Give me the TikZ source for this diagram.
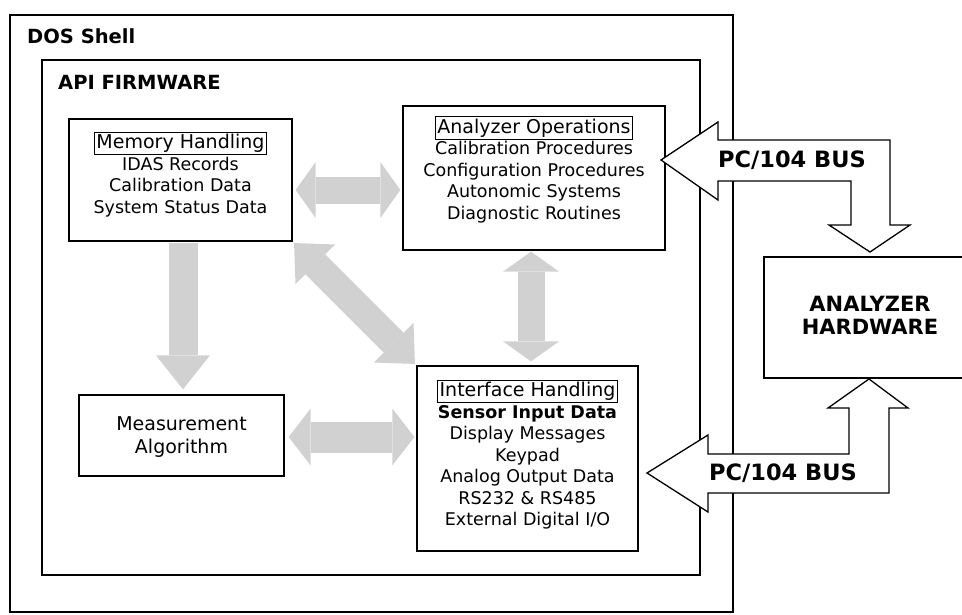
\documentclass[tikz,border=0pt]{standalone}
\usepackage{fontspec}
\setmainfont{DejaVu Sans}
\usetikzlibrary{arrows.meta}
\setlength\fboxsep{1.5pt}
\setlength\fboxrule{0.8pt}
\newcommand\headbox[1]{\fbox{\fontsize{19}{21.5}\selectfont #1}}

\begin{document}
\begin{tikzpicture}[x=1pt,y=-1pt,
  box/.style={draw,line width=1.3pt,inner sep=0pt},
  frame/.style={draw,line width=2pt,inner sep=0pt},
  txt/.style={align=center,font=\fontsize{17.5}{21.5}\selectfont},
  title/.style={anchor=west,inner sep=0pt,font=\fontsize{19.5}{23}\selectfont\bfseries},
  bus/.style={draw,line width=1.3pt,fill=white,line join=miter},
  buslabel/.style={font=\fontsize{22.5}{26}\selectfont\bfseries},
  flow/.style={draw=black!18,line width=27pt,
    >={Triangle[width=56pt,length=20pt,line width=0pt]}}]
\useasboundingbox (0,0) rectangle (962,614);
% shell and firmware
\node[frame,minimum width=723pt,minimum height=597pt] (dos) at (371.5,313.5) {};
\node[frame,minimum width=658pt,minimum height=515pt] (fw) at (371,317.5) {};
\node[title] (dosname) at (27,36) {DOS Shell};
\node[title] (fwname) at (58,82) {API FIRMWARE};
% blocks
\node[box,minimum width=223pt,minimum height=122pt] (mem) at (180.5,180) {};
\node[box,minimum width=262pt,minimum height=144pt] (ops) at (534,178) {};
\node[box,minimum width=205pt,minimum height=81pt] (meas) at (181.5,435.5) {};
\node[box,minimum width=221pt,minimum height=185pt] (intf) at (527.5,458.5) {};
\node[box,minimum width=206pt,minimum height=121pt] (hw) at (867,317.5) {};
\node[txt] (memtext) at (180.5,174.5) {\headbox{Memory Handling}\\IDAS Records\\Calibration Data\\System Status Data};
\node[txt] (opstext) at (534,169.5) {\headbox{Analyzer Operations}\\Calibration Procedures\\Configuration Procedures\\Autonomic Systems\\Diagnostic Routines};
\node[txt,font=\fontsize{19}{23}\selectfont] (meastext) at (181.5,437.5) {Measurement\\Algorithm};
\node[txt] (intftext) at (527.5,454.5) {\headbox{Interface Handling}\\\textbf{Sensor Input Data}\\Display Messages\\Keypad\\Analog Output Data\\RS232 \& RS485\\External Digital I/O};
\node[align=center,font=\fontsize{21}{23}\selectfont\bfseries] (hwtext) at (870,315.5) {ANALYZER\\HARDWARE};
% data flow
\draw[flow,<->,shorten <=3pt,shorten >=2pt] ([yshift=-10pt]mem.east) -- ([yshift=-10pt]mem.east -| ops.west);
\draw[flow,->,line width=29pt,>={Triangle[width=54pt,length=34pt,line width=0pt]},shorten <=1pt,shorten >=5pt] ([xshift=2.5pt]mem.south) -- ([xshift=2.5pt]mem.south |- meas.north);
\draw[flow,<->,line width=28pt,>={Triangle[width=56pt,length=30pt,line width=0pt]},shorten <=2pt,shorten >=2pt] (mem.south east) -- (intf.north west);
\draw[flow,<->,shorten <=1pt,shorten >=4pt] ([xshift=-3pt]ops.south) -- ([xshift=-3pt]ops.south |- intf.north);
\draw[flow,<->,line width=31pt,>={Triangle[width=57pt,length=22pt,line width=0pt]},shorten <=4pt,shorten >=2pt] ([yshift=-1.5pt]meas.east) -- ([yshift=-1.5pt]meas.east -| intf.west);
% bus arrows
\draw[bus] (661,160) -- (718,122) -- (718,140) -- (890,140) -- (890,225) -- (910,225) -- (870,252) -- (829,225) -- (851,225) -- (851,181) -- (718,181) -- (718,200) -- cycle;
\node[buslabel] (busA) at (792,160) {PC/104 BUS};
\draw[bus] (647,473) -- (708,435) -- (708,454) -- (849,454) -- (849,408) -- (828,408) -- (869,379) -- (908,408) -- (889,408) -- (889,493) -- (708,493) -- (708,512) -- cycle;
\node[buslabel] (busB) at (783,473) {PC/104 BUS};
\end{tikzpicture}
\end{document}
